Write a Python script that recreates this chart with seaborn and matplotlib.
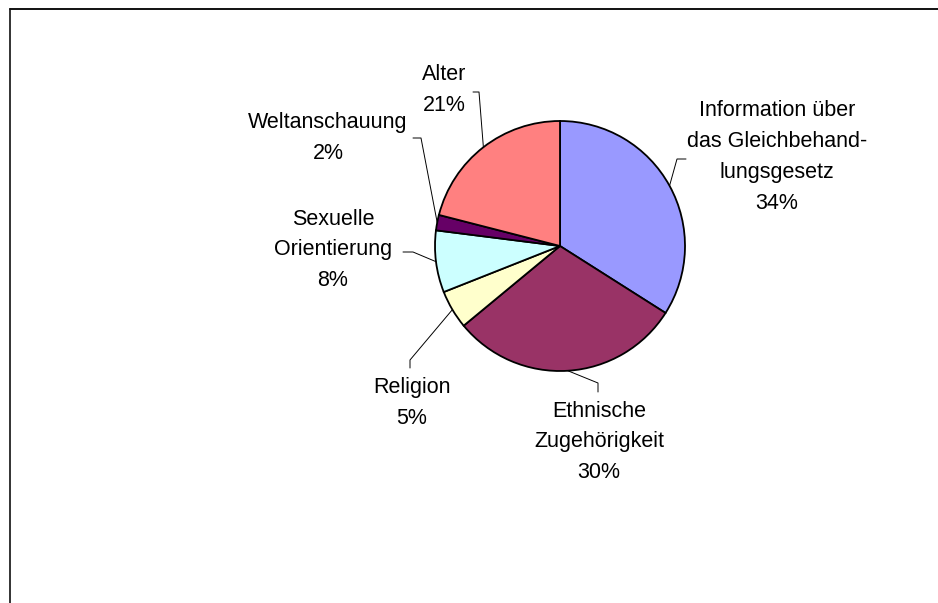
import numpy as np
import matplotlib
matplotlib.use("Agg")
import matplotlib.pyplot as plt
import seaborn as sns

# Daten (Anteile in %)
labels = ["Information über\ndas Gleichbehand-\nlungsgesetz", "Ethnische\nZugehörigkeit",
          "Religion", "Sexuelle\nOrientierung", "Weltanschauung", "Alter"]
values = [34, 30, 5, 8, 2, 21]
colors = ["#9999FF", "#993366", "#FFFFCC", "#CCFFFF", "#660066", "#FF8080"]

# Layout in Pixeln (Bildkoordinaten, y von oben)
W, H = 938, 603
CENTER = (560, 246)
RADIUS = 125
label_pos = [(777, 157), (599, 442), (412, 403), (333, 250), (328, 138), (444, 90)]
# Knickpunkt der Führungslinie (Ende am Text, dann Knick)
leader_knee = [
    [(686, 159), (677, 159)],
    [(598, 392), (598, 383)],
    [(410, 368), (410, 360)],
    [(403, 252), (413, 252)],
    [(413, 138), (421, 138)],
    [(473, 92), (479, 92)],
]

sns.set_theme(style="white")
plt.rcParams["font.family"] = ["Liberation Sans", "DejaVu Sans"]


def to_data(p):
    return p[0], H - p[1]


def main():
    fig = plt.figure(figsize=(W / 100, H / 100), dpi=100)
    ax = fig.add_axes([0, 0, 1, 1])
    cx, cy = to_data(CENTER)
    wedges, _ = ax.pie(values, colors=colors, startangle=90, counterclock=False,
                       center=(cx, cy), radius=RADIUS,
                       wedgeprops=dict(edgecolor="black", linewidth=1.3))
    ax.set_xlim(0, W)
    ax.set_ylim(0, H)
    ax.axis("off")

    pcts = [f"{v}%" for v in values]
    for w, lab, pct, pos, knee in zip(wedges, labels, pcts, label_pos, leader_knee):
        mid = np.deg2rad((w.theta1 + w.theta2) / 2)
        ex, ey = cx + RADIUS * np.cos(mid), cy + RADIUS * np.sin(mid)
        pts = [to_data(k) for k in knee] + [(ex, ey)]
        ax.plot([p[0] for p in pts], [p[1] for p in pts], color="black", lw=0.7)
        tx, ty = to_data(pos)
        ax.text(tx, ty, f"{lab}\n{pct}", ha="center", va="center", fontsize=15.5,
                linespacing=1.62, color="black")

    # Rahmen
    ax.plot([10, 10], [0, H - 9], color="#333333", lw=1.4, clip_on=False)
    ax.plot([10, W], [H - 9, H - 9], color="#111111", lw=1.4, clip_on=False)

    fig.savefig("out.png", dpi=100)


if __name__ == "__main__":
    main()
